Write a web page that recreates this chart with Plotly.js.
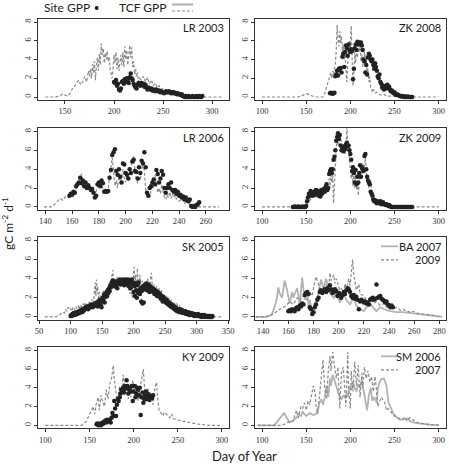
<!DOCTYPE html>
<html><head><meta charset="utf-8">
<script src="https://cdn.plot.ly/plotly-3.0.1.min.js"></script>
<style>html,body{margin:0;padding:0;background:#fff}#chart{width:449px;height:464px}</style>
</head><body><div id="chart"></div>
<script>
// ---------- DATA: [day, gC m-2 d-1] ----------
const lr03Tcf = [[130,0],[135,0],[140,0],[145,0.1],[147,0.3],[150,0.2],[153,0.1],[156,0.5],[158,1.0],[160,1.2],[162,1.5],[164,1.8],[166,1.3],[168,1.6],[170,2.2],[172,1.6],[174,2.8],[175,2.2],[176,3.0],[177,2.0],[178,3.5],[179,2.6],[180,3.8],[181,1.8],[182,3.2],[183,4.2],[184,2.8],[185,4.6],[186,3.4],[187,5.7],[188,4.5],[189,5.2],[190,3.6],[191,4.7],[192,4.0],[193,4.9],[194,3.8],[195,4.3],[196,3.0],[197,2.6],[198,2.0],[199,3.1],[200,4.5],[201,3.6],[202,4.8],[203,3.0],[204,4.2],[205,2.8],[206,3.6],[207,4.5],[208,3.4],[209,4.8],[210,3.2],[211,5.4],[212,4.0],[213,5.0],[214,3.4],[215,4.6],[216,5.5],[217,4.2],[218,5.3],[219,3.2],[220,3.8],[221,2.4],[222,3.0],[223,2.2],[224,2.6],[225,1.6],[226,2.0],[228,1.8],[230,2.2],[232,1.6],[234,2.1],[236,1.4],[238,1.8],[240,1.2],[242,1.5],[244,1.0],[246,1.2],[248,0.8],[250,0.9],[253,0.6],[256,0.5],[260,0.4],[264,0.3],[268,0.2],[272,0.15],[276,0.1],[280,0.05],[285,0],[290,0],[295,0],[300,0],[305,0],[310,0]];
const lr03Site = [[200,1.6],[201,1.5],[202,1.8],[203,1.2],[204,1.4],[205,0.8],[206,0.7],[207,0.9],[208,1.6],[209,1.7],[210,1.4],[211,1.9],[212,1.6],[213,2.0],[214,1.8],[215,1.5],[216,2.1],[217,2.5],[218,2.0],[219,1.8],[220,1.4],[221,1.2],[222,1.0],[223,0.9],[224,1.3],[225,1.5],[226,1.4],[227,1.2],[228,1.5],[229,1.3],[230,1.4],[231,1.1],[232,1.3],[233,1.0],[234,0.8],[235,1.0],[236,0.9],[237,0.8],[238,0.9],[239,0.7],[240,0.8],[241,0.7],[242,0.6],[243,0.8],[244,0.7],[245,0.6],[246,0.7],[247,0.5],[248,0.6],[249,0.5],[250,0.5],[251,0.4],[252,0.5],[253,0.6],[254,0.5],[255,0.5],[256,0.6],[257,0.5],[258,0.4],[259,0.5],[260,0.4],[261,0.5],[262,0.4],[263,0.4],[264,0.3],[265,0.4],[266,0.3],[267,0.3],[268,0.2],[269,0.3],[270,0.1],[271,0.1],[272,0.0],[273,0.1],[274,0.0],[275,0.0],[276,0.1],[277,0.0],[278,0.0],[279,0.0],[280,0.1],[281,0.0],[282,0.0],[283,0.0],[284,0.1],[285,0.0],[286,0.0],[287,0.1],[288,0.0],[289,0.0],[290,0.1]];

const zk08Tcf = [[100,0],[110,0],[120,0],[130,0],[140,0],[145,0.1],[148,0.3],[151,0.35],[154,0.2],[157,0.1],[160,0],[165,0],[169,0],[171,0.4],[173,1.0],[175,1.6],[177,2.2],[178,2.6],[179,2.0],[180,2.8],[181,2.4],[182,3.1],[183,3.6],[184,5.0],[185,7.7],[186,6.2],[187,5.4],[188,7.0],[189,5.8],[190,6.5],[191,4.8],[192,5.6],[193,4.0],[194,4.6],[195,2.8],[196,1.6],[197,3.5],[198,4.8],[199,6.0],[200,5.2],[201,7.6],[202,4.0],[203,1.2],[204,2.5],[205,4.8],[206,3.6],[207,5.0],[208,4.2],[209,5.5],[210,4.8],[211,5.4],[212,3.8],[213,4.5],[214,3.2],[215,4.0],[216,4.8],[217,3.6],[218,4.5],[219,2.4],[220,3.0],[221,1.6],[222,2.2],[223,1.0],[224,0.9],[225,0.5],[226,0.8],[228,0.4],[230,0.5],[232,0.3],[235,0.2],[238,0.3],[241,0.1],[245,0.1],[250,0.05],[255,0],[260,0],[270,0],[280,0],[290,0],[300,0]];
const zk08Site = [[177,0.4],[178,0.45],[179,0.4],[180,0.35],[181,0.4],[182,0.45],[183,2.2],[184,2.4],[185,2.8],[186,2.3],[187,3.0],[188,2.9],[189,3.1],[190,2.6],[191,4.3],[192,4.6],[193,3.2],[194,4.8],[195,5.5],[196,5.2],[197,4.4],[198,5.6],[199,5.0],[200,4.8],[201,5.1],[202,4.9],[203,1.9],[204,3.0],[205,5.2],[206,5.6],[207,5.0],[208,5.9],[209,5.6],[210,5.8],[211,5.7],[212,5.8],[213,5.5],[214,5.0],[215,4.0],[216,3.8],[217,2.6],[218,3.4],[219,2.4],[220,4.2],[221,4.6],[222,4.4],[223,4.0],[224,3.8],[225,4.0],[226,3.4],[227,3.0],[228,3.6],[229,3.2],[230,2.8],[231,2.2],[232,2.0],[233,2.4],[234,1.6],[235,1.4],[236,1.0],[237,1.2],[238,0.8],[239,1.1],[240,1.2],[241,0.9],[242,1.3],[243,1.0],[244,1.1],[245,0.8],[246,0.6],[247,0.7],[248,0.5],[249,0.4],[250,0.5],[251,0.3],[252,0.2],[253,0.3],[254,0.2],[255,0.15],[256,0.1],[257,0.1],[258,0.05],[259,0.1],[260,0.05],[261,0],[262,0.05],[263,0],[264,0],[265,0.05],[266,0],[267,0],[268,0],[269,0],[270,0]];

const lr06Tcf = [[139,0],[142,0],[145,0],[147,0.3],[149,0.6],[151,0.9],[153,0.7],[155,1.1],[157,1.0],[159,1.4],[161,1.2],[163,2.0],[165,2.4],[167,3.5],[169,2.3],[171,2.6],[173,1.8],[175,2.0],[177,1.2],[179,2.2],[181,2.6],[183,2.0],[185,1.4],[187,2.0],[188,3.2],[189,4.5],[190,5.2],[191,3.8],[192,2.2],[193,2.8],[194,2.0],[195,3.5],[196,2.4],[197,3.2],[198,4.0],[199,3.0],[200,2.6],[201,3.4],[202,2.8],[203,3.6],[204,4.2],[205,4.6],[206,5.4],[207,3.6],[208,3.0],[209,2.5],[210,3.2],[211,2.8],[212,4.0],[213,4.6],[214,3.8],[215,1.8],[216,1.2],[217,1.5],[218,1.0],[219,2.0],[220,2.6],[221,2.0],[222,3.4],[223,2.4],[224,1.5],[225,2.0],[226,1.4],[227,2.4],[228,1.8],[229,1.0],[230,0.8],[231,1.3],[232,1.0],[233,1.6],[234,0.9],[235,1.4],[236,1.0],[237,1.3],[238,0.8],[240,0.6],[242,0.9],[244,0.4],[246,0.5],[248,0.3],[250,0.2],[252,0.05],[255,0],[258,0],[262,0],[266,0],[270,0]];
const lr06Site = [[158,1.2],[159,1.4],[160,1.3],[161,1.6],[162,1.5],[163,2.2],[164,2.4],[165,2.6],[166,3.1],[167,2.5],[168,2.8],[169,2.2],[170,2.6],[171,2.0],[172,2.3],[173,2.0],[174,1.8],[175,1.9],[176,1.5],[177,1.0],[178,1.2],[179,2.4],[180,2.6],[181,2.2],[182,2.8],[183,2.5],[184,1.6],[185,1.7],[186,1.6],[187,1.7],[188,3.1],[189,3.9],[190,5.5],[191,5.8],[192,6.1],[193,3.8],[194,3.4],[195,4.0],[196,3.2],[197,2.6],[198,4.6],[199,4.5],[200,3.6],[201,3.4],[202,3.0],[203,4.0],[204,3.6],[205,4.8],[206,5.0],[207,3.8],[208,3.7],[209,3.0],[210,4.2],[211,3.6],[212,4.9],[213,4.6],[214,5.8],[215,4.2],[216,1.5],[217,1.2],[218,2.0],[219,2.2],[220,2.6],[221,2.9],[222,2.4],[223,3.9],[224,3.5],[225,2.6],[226,3.0],[227,3.8],[228,3.4],[229,2.0],[230,1.5],[231,2.0],[232,2.4],[233,2.0],[234,2.6],[235,1.8],[236,1.6],[237,1.8],[238,1.4],[239,1.6],[240,1.2],[241,1.3],[242,1.0],[243,1.1],[244,0.8],[245,1.0],[246,0.7],[247,0.6],[248,0.8],[249,0.1],[250,0.0],[251,0.1],[252,0.0],[253,0.2],[254,0.3],[255,0.5]];

const zk09Tcf = [[100,0],[110,0],[120,0],[130,0],[140,0],[148,0],[150,0.3],[153,0.6],[156,0.9],[158,1.3],[160,1.0],[162,1.6],[164,1.2],[166,1.8],[168,1.3],[170,2.0],[172,1.6],[174,2.4],[176,3.0],[177,2.2],[178,3.4],[179,2.6],[180,3.6],[181,0.4],[182,3.0],[183,5.0],[184,6.0],[185,7.2],[186,6.5],[187,7.8],[188,7.0],[189,7.4],[190,6.2],[191,5.8],[192,6.6],[193,6.0],[194,5.6],[195,6.4],[196,8.4],[197,7.0],[198,6.0],[199,5.2],[200,4.6],[201,3.0],[202,4.4],[203,2.2],[204,3.4],[205,2.0],[206,3.6],[207,1.8],[208,2.8],[209,1.2],[210,2.4],[211,3.4],[212,4.2],[213,3.2],[214,4.6],[215,3.6],[216,4.8],[217,5.2],[218,3.8],[219,3.0],[220,3.4],[221,2.0],[222,2.6],[223,2.8],[224,1.6],[225,1.0],[226,1.2],[227,0.7],[228,0.9],[230,0.5],[232,0.6],[234,0.3],[236,0.4],[238,0.2],[240,0.3],[242,0.1],[245,0.05],[248,0],[255,0],[265,0],[275,0],[285,0],[295,0],[300,0]];
const zk09Site = [[135,0],[136,0],[137,0.05],[138,0],[139,0],[140,0],[141,0.05],[142,0],[143,0],[144,0],[145,0],[146,0.05],[147,0],[148,0],[149,0],[150,0.1],[151,0.6],[152,1.0],[153,1.4],[154,1.2],[155,1.7],[156,1.5],[157,1.2],[158,1.4],[159,1.6],[160,1.3],[161,1.8],[162,1.5],[163,1.7],[164,1.2],[165,1.5],[166,1.1],[167,1.8],[168,1.4],[169,1.6],[170,1.9],[171,1.6],[172,2.1],[173,2.4],[174,1.8],[175,2.0],[176,3.5],[177,3.8],[178,4.0],[179,3.6],[180,4.0],[181,5.0],[182,5.3],[183,6.0],[184,7.0],[185,7.4],[186,7.8],[187,7.2],[188,7.6],[189,6.5],[190,6.0],[191,6.2],[192,5.9],[193,6.4],[194,6.1],[195,6.6],[196,6.8],[197,6.4],[198,6.5],[199,6.0],[200,5.6],[201,5.0],[202,3.8],[203,4.2],[204,3.6],[205,2.6],[206,3.9],[207,2.4],[208,3.2],[209,2.6],[210,3.6],[211,4.4],[212,3.2],[213,4.2],[214,4.0],[215,3.8],[216,5.4],[217,5.6],[218,4.0],[219,3.2],[220,2.8],[221,2.6],[222,2.4],[223,1.6],[224,1.4],[225,1.2],[226,0.8],[227,0.6],[228,0.7],[229,0.5],[230,0.4],[231,0.6],[232,0.5],[233,0.4],[234,0.6],[235,0.3],[236,0.4],[237,0.5],[238,0.3],[239,0.3],[240,0.2],[241,0.3],[242,0.2],[243,0.1],[244,0.2],[245,0.1],[246,0],[247,0],[248,0],[249,0],[250,0],[251,0],[252,0],[253,0],[254,0],[255,0],[256,0],[257,0],[258,0],[259,0],[260,0],[261,0],[262,0],[263,0],[264,0],[265,0],[266,0],[267,0],[268,0],[269,0],[270,0]];

const sk05Tcf = [[59,0],[65,0],[70,0],[75,0],[80,0.1],[85,0.3],[88,0.5],[90,0.4],[92,0.8],[94,0.6],[96,1.0],[98,0.8],[100,0.9],[102,0.6],[104,1.0],[106,0.7],[108,1.1],[110,0.9],[112,1.2],[114,0.8],[116,1.3],[118,1.0],[120,1.4],[122,1.1],[124,1.5],[126,1.2],[128,1.3],[130,1.6],[132,1.2],[134,1.8],[136,1.4],[138,2.8],[139,3.6],[140,2.2],[141,3.9],[142,2.6],[143,3.2],[144,2.0],[146,2.6],[148,1.8],[150,2.2],[152,2.8],[154,2.0],[156,2.6],[158,3.0],[160,2.6],[162,3.4],[164,3.0],[165,4.4],[166,3.6],[167,4.9],[168,3.4],[170,4.0],[172,3.3],[174,4.2],[176,3.6],[178,4.0],[180,3.5],[182,4.1],[184,3.4],[186,3.9],[188,3.2],[190,3.8],[192,3.0],[194,2.4],[196,3.2],[198,2.0],[200,4.6],[201,5.2],[202,3.0],[203,4.4],[204,2.2],[205,4.0],[206,5.1],[207,3.4],[208,2.6],[210,4.4],[212,3.0],[214,3.8],[216,2.6],[218,3.6],[220,3.2],[222,4.0],[224,3.2],[226,3.6],[228,4.6],[229,3.8],[230,3.0],[232,3.4],[234,2.8],[236,3.2],[238,2.6],[240,3.0],[242,2.4],[244,2.8],[246,2.2],[248,2.4],[250,2.0],[252,2.2],[254,1.8],[256,2.0],[258,1.6],[260,1.8],[262,1.4],[264,1.6],[266,1.2],[268,1.4],[270,1.1],[272,1.2],[274,0.9],[276,1.0],[278,0.8],[280,0.9],[283,0.7],[286,0.6],[289,0.5],[292,0.4],[295,0.4],[298,0.3],[301,0.3],[304,0.2],[307,0.2],[310,0.1],[313,0.1],[316,0.05],[320,0],[325,0],[330,0],[335,0],[340,0]];
const sk05Site = [[100,0.1],[101,0.2],[102,0.1],[103,0.3],[104,0.2],[105,0.4],[106,0.3],[107,0.2],[108,0.4],[109,0.5],[110,0.4],[111,0.3],[112,0.5],[113,0.6],[114,0.4],[115,0.5],[116,0.7],[117,0.6],[118,0.5],[119,0.8],[120,0.6],[121,0.7],[122,0.9],[123,0.8],[124,1.0],[125,0.9],[126,1.1],[127,1.0],[128,0.8],[129,1.1],[130,1.2],[131,1.0],[132,1.1],[133,1.3],[134,1.2],[135,1.0],[136,1.1],[137,1.3],[138,1.2],[139,1.4],[140,1.2],[141,1.5],[142,1.3],[143,1.1],[144,1.6],[145,1.4],[146,1.8],[147,1.5],[148,1.2],[149,1.0],[150,1.6],[151,2.0],[152,1.8],[153,2.3],[154,1.5],[155,2.4],[156,2.1],[157,2.6],[158,2.2],[159,2.8],[160,2.5],[161,3.0],[162,2.7],[163,3.3],[164,3.1],[165,3.6],[166,3.4],[167,3.8],[168,3.5],[169,3.2],[170,3.6],[171,3.3],[172,3.7],[173,3.4],[174,3.0],[175,3.5],[176,3.8],[177,3.6],[178,3.9],[179,3.4],[180,3.7],[181,3.5],[182,3.8],[183,3.9],[184,3.6],[185,3.3],[186,3.7],[187,3.9],[188,3.5],[189,3.8],[190,3.6],[191,3.9],[192,3.2],[193,3.8],[194,3.5],[195,3.0],[196,3.7],[197,3.9],[198,3.4],[199,3.6],[200,2.6],[201,3.2],[202,2.2],[203,3.5],[204,2.8],[205,2.0],[206,3.3],[207,2.5],[208,3.6],[209,2.8],[210,2.4],[211,3.0],[212,1.6],[213,2.7],[214,1.4],[215,3.2],[216,1.5],[217,2.9],[218,3.4],[219,3.1],[220,3.5],[221,2.8],[222,3.3],[223,3.0],[224,3.4],[225,2.6],[226,3.2],[227,2.9],[228,3.1],[229,2.7],[230,3.0],[231,2.6],[232,2.9],[233,2.4],[234,2.8],[235,2.5],[236,2.7],[237,2.2],[238,2.6],[239,2.3],[240,2.5],[241,2.1],[242,2.4],[243,1.9],[244,2.2],[245,2.0],[246,1.6],[247,2.1],[248,1.8],[249,1.9],[250,1.7],[251,1.5],[252,1.8],[253,1.4],[254,1.6],[255,1.3],[256,1.5],[257,1.2],[258,1.4],[259,1.1],[260,1.3],[261,1.0],[262,1.2],[263,0.9],[264,1.1],[265,0.8],[266,1.0],[267,0.7],[268,0.9],[269,0.6],[270,0.8],[271,0.6],[272,0.7],[273,0.5],[274,0.8],[275,0.6],[276,0.5],[277,0.7],[278,0.4],[279,0.6],[280,0.5],[281,0.4],[282,0.6],[283,0.3],[284,0.5],[285,0.4],[286,0.3],[287,0.5],[288,0.2],[289,0.4],[290,0.3],[291,0.2],[292,0.4],[293,0.3],[294,0.2],[295,0.3],[296,0.1],[297,0.3],[298,0.2],[299,0.1],[300,0.2],[301,0.1],[302,0.3],[303,0.2],[304,0.1],[305,0.2],[306,0.1],[307,0.0],[308,0.2],[309,0.1],[310,0.1],[311,0.0],[312,0.2],[313,0.1],[314,0.0],[315,0.1],[316,0.1],[317,0.0],[318,0.1],[319,0.0],[320,0.1],[321,0.0],[322,0.1],[323,0.0],[324,0.0],[325,0.1]];

const ba07Tcf = [[134,0],[138,0],[142,0],[145,0.1],[147,0.3],[149,1.0],[151,2.0],[152,3.1],[153,2.5],[155,2.0],[156,3.2],[157,3.8],[159,2.8],[160,2.0],[161,1.4],[163,2.6],[164,2.0],[165,2.4],[167,3.0],[168,2.2],[169,1.2],[171,4.1],[172,2.5],[173,1.8],[175,2.4],[176,1.2],[177,1.8],[179,0.4],[180,0.8],[181,1.5],[182,1.3],[184,2.6],[185,3.2],[186,3.9],[188,3.0],[189,3.4],[190,4.0],[192,3.0],[193,2.5],[196,2.0],[198,2.5],[201,1.5],[204,2.4],[206,1.8],[209,1.3],[212,2.0],[214,1.2],[217,0.8],[220,0.6],[222,1.0],[225,1.4],[228,0.9],[230,0.6],[233,1.0],[236,0.8],[238,0.7],[241,0.6],[246,0.5],[251,0.5],[257,0.4],[262,0.3],[267,0.2],[273,0.1],[278,0.05],[282,0]];
const ba09Tcf = [[134,0],[140,0],[145,0.1],[148,0.3],[151,0.6],[153,0.8],[156,1.0],[159,1.3],[161,1.6],[164,1.3],[167,2.0],[169,1.7],[172,2.2],[175,1.8],[177,2.6],[179,2.2],[180,3.0],[181,3.6],[182,4.2],[184,3.4],[185,2.6],[188,3.2],[189,2.8],[190,3.4],[192,2.6],[193,4.6],[194,3.8],[196,4.4],[197,3.5],[198,4.0],[200,3.2],[201,2.5],[202,3.0],[204,2.6],[205,3.5],[206,2.8],[208,4.0],[209,3.2],[210,5.0],[211,6.0],[212,4.4],[213,3.6],[214,2.8],[216,3.4],[217,2.4],[220,2.2],[222,1.8],[225,2.0],[228,1.4],[230,1.6],[233,1.2],[236,1.4],[238,1.0],[241,1.1],[244,0.9],[246,1.0],[249,0.7],[251,0.8],[254,0.6],[257,0.5],[259,0.6],[262,0.4],[267,0.3],[273,0.15],[278,0.1],[282,0.05]];
const baSite = [[160,0.6],[161,0.7],[162,0.6],[163,0.8],[164,0.7],[165,0.6],[166,0.9],[167,1.0],[168,0.8],[169,1.2],[170,1.1],[171,1.4],[172,1.3],[173,2.3],[174,2.5],[175,2.6],[176,2.4],[177,1.0],[178,0.8],[179,0.3],[180,0.5],[181,1.0],[182,1.3],[183,1.8],[184,2.0],[185,2.6],[186,2.8],[187,2.5],[188,2.7],[189,2.9],[190,2.6],[191,3.0],[192,2.8],[193,3.3],[194,2.9],[195,2.5],[196,2.6],[197,2.9],[198,2.7],[199,2.2],[200,2.5],[201,2.4],[202,2.0],[203,2.3],[204,2.6],[205,2.4],[206,2.8],[207,3.0],[208,2.9],[209,2.6],[210,2.2],[211,2.0],[212,2.3],[213,1.9],[214,2.1],[215,1.8],[216,0.8],[217,1.6],[218,1.8],[219,1.7],[220,1.5],[221,1.6],[222,1.4],[223,1.5],[224,1.3],[225,1.8],[226,1.9],[227,2.0],[228,1.8],[229,1.9],[230,3.4],[231,2.0],[232,2.1],[233,2.2],[234,1.9],[235,1.8],[236,1.7],[237,1.5],[238,1.6],[239,1.3],[240,1.2],[241,1.0],[242,1.2],[243,1.0]];

const ky09Tcf = [[100,0],[110,0],[120,0],[130,0],[141,0],[144,0.2],[147,0.5],[150,1.2],[152,1.5],[154,2.0],[156,1.2],[158,2.5],[160,3.0],[161,1.6],[163,3.2],[165,2.5],[167,2.0],[169,3.8],[171,2.8],[173,4.4],[175,5.0],[177,6.4],[178,5.0],[180,3.5],[182,2.4],[184,4.2],[186,2.8],[188,5.4],[190,3.6],[192,4.4],[194,2.8],[195,4.2],[197,3.0],[199,4.8],[201,3.4],[203,4.4],[205,2.6],[207,3.8],[209,5.0],[211,6.0],[212,4.4],[214,2.4],[216,4.0],[218,2.6],[220,3.4],[222,2.2],[224,4.0],[226,4.6],[227,3.0],[229,1.5],[231,1.3],[233,1.0],[235,1.4],[237,1.2],[241,0.8],[243,1.2],[245,0.7],[248,0.6],[252,0.5],[256,0.4],[263,0.3],[271,0.15],[279,0.05],[286,0],[295,0],[301,0]];
const ky09Site = [[158,0.1],[159,0.2],[160,0.0],[161,0.1],[162,0.2],[163,0.0],[164,0.1],[165,0.3],[166,0.2],[167,0.4],[168,0.5],[169,0.3],[170,0.6],[171,0.5],[172,0.4],[173,0.6],[174,0.3],[175,0.8],[176,1.3],[177,1.0],[178,2.6],[179,1.8],[180,1.0],[181,2.2],[182,2.8],[183,2.6],[184,3.0],[185,3.4],[186,3.8],[187,3.6],[188,4.0],[189,3.5],[190,4.2],[191,3.9],[192,4.8],[193,4.2],[194,3.4],[195,3.8],[196,4.0],[197,3.6],[198,4.2],[199,2.6],[200,3.6],[201,4.2],[202,3.0],[203,3.4],[204,4.0],[205,3.8],[206,3.2],[207,4.0],[208,1.1],[209,3.0],[210,3.5],[211,2.4],[212,2.8],[213,3.2],[214,3.6],[215,2.8],[216,3.0],[217,3.3],[218,2.7],[219,3.1],[220,3.0],[221,2.9],[222,3.2]];

const sm06Tcf = [[95,0],[105,0],[114,0],[118,0.5],[122,1.0],[125,1.3],[128,0.8],[131,0.3],[135,0.5],[139,0.8],[141,1.2],[144,1.0],[146,1.4],[150,1.0],[154,1.3],[158,1.1],[161,1.2],[163,1.5],[165,2.4],[167,2.8],[169,2.2],[171,3.0],[173,4.2],[175,3.0],[177,5.0],[178,4.2],[180,5.4],[182,4.8],[186,3.6],[188,3.0],[190,2.8],[192,3.2],[194,2.9],[196,3.4],[197,3.0],[199,4.2],[201,3.8],[203,4.6],[205,4.0],[207,3.6],[209,4.4],[211,4.0],[213,4.8],[214,4.2],[216,3.5],[218,2.0],[219,1.6],[221,3.2],[223,4.0],[225,2.6],[227,3.0],[230,2.4],[231,3.8],[233,4.6],[235,4.9],[238,5.0],[241,4.2],[243,2.5],[245,2.0],[249,1.2],[252,0.9],[256,0.6],[260,0.6],[264,0.7],[267,0.5],[271,0.3],[277,0.2],[285,0.1],[292,0.05],[300,0]];
const sm07Tcf = [[95,0],[105,0],[115,0],[122,0],[125,0.1],[129,0.3],[133,0.5],[135,0.4],[137,1.0],[139,1.6],[141,0.8],[142,1.2],[144,2.0],[146,1.8],[148,2.4],[150,1.6],[152,2.6],[154,2.2],[156,3.2],[158,4.2],[160,3.5],[161,2.2],[163,1.2],[165,3.4],[167,5.0],[169,7.0],[171,4.0],[173,2.8],[175,5.8],[177,7.4],[178,5.8],[180,7.8],[182,6.4],[184,5.0],[186,6.2],[188,1.8],[190,5.6],[192,6.2],[194,3.4],[195,2.0],[197,7.8],[198,4.0],[200,1.8],[201,5.8],[203,3.6],[205,6.8],[207,4.2],[209,6.4],[211,3.0],[213,5.6],[214,4.0],[216,6.2],[218,5.0],[220,5.8],[222,4.6],[224,5.2],[226,3.6],[228,5.2],[230,3.4],[231,2.0],[235,3.0],[239,2.4],[241,1.6],[243,1.8],[247,1.3],[250,1.0],[254,0.8],[258,0.6],[262,0.9],[264,0.5],[267,0.8],[271,0.6],[275,0.3],[281,0.2],[288,0.1],[296,0.05],[302,0]];

// tick labels
const yTicks = [0,2,4,6,8];
const xTicksLR03 = [150,200,250,300];
const xTicksZK = [100,150,200,250,300];
const xTicksLR06 = [140,160,180,200,220,240,260];
const xTicksSK = [50,100,150,200,250,300,350];
const xTicksBA = [140,160,180,200,220,240,260,280];
const xTicksKY = [100,150,200,250,300];
const xTicksSM = [100,150,200,250,300];

// ---------- LAYOUT ----------
const W=449, H=464;
const px = x => x/W, py = y => 1 - y/H;
const colPx=[[38.3,229],[255,445.7]];
const rowPx=[[19,100],[128.3,210],[237.3,320],[347.3,428.3]];
const DASH = {color:'#8a8a8a', width:1.2, dash:'3px,2px'};
const SOLID = {color:'#b3b3b3', width:1.8};

const panels = [
 {lab:'LR 2003', col:0,row:0, xr:[122.8,317.2], xt:xTicksLR03, lines:[[lr03Tcf,DASH]], site:lr03Site},
 {lab:'ZK 2008', col:1,row:0, xr:[92,308], xt:xTicksZK, lines:[[zk08Tcf,DASH]], site:zk08Site},
 {lab:'LR 2006', col:0,row:1, xr:[134.7,277.3], xt:xTicksLR06, lines:[[lr06Tcf,DASH]], site:lr06Site},
 {lab:'ZK 2009', col:1,row:1, xr:[92,308], xt:xTicksZK, lines:[[zk09Tcf,DASH]], site:zk09Site},
 {lab:'SK 2005', col:0,row:2, xr:[48.8,351.2], xt:xTicksSK, lines:[[sk05Tcf,DASH]], site:sk05Site},
 {lab:null, col:1,row:2, xr:[133.5,285], xt:xTicksBA, lines:[[ba07Tcf,SOLID],[ba09Tcf,DASH]], site:baSite, leg:['BA 2007','2009']},
 {lab:'KY 2009', col:0,row:3, xr:[92,308], xt:xTicksKY, lines:[[ky09Tcf,DASH]], site:ky09Site},
 {lab:null, col:1,row:3, xr:[92,308], xt:xTicksSM, lines:[[sm06Tcf,SOLID],[sm07Tcf,DASH]], site:null, leg:['SM 2006','2007']},
];

const tickFont = {family:'"Liberation Serif", "Times New Roman", "DejaVu Serif", serif', size:8.5, color:'#333'};
const sans = 'Lato, "Open Sans", sans-serif';
const traces=[], annotations=[], shapes=[];
const layout = {width:W, height:H, margin:{l:0,r:0,t:0,b:0}, paper_bgcolor:'#fff', plot_bgcolor:'#fff', showlegend:false};

panels.forEach((p,i)=>{
  const n = i+1, sfx = n>1? String(n):'';
  const xd=[px(colPx[p.col][0]), px(colPx[p.col][1])];
  const yd=[py(rowPx[p.row][1]), py(rowPx[p.row][0])];
  const common = {showline:true, mirror:true, linecolor:'#333', linewidth:1, showgrid:false, zeroline:false,
    ticks:'outside', ticklen:3, tickwidth:1, tickcolor:'#333', tickfont:tickFont, fixedrange:true};
  layout['xaxis'+sfx] = Object.assign({}, common, {domain:xd, anchor:'y'+sfx, range:p.xr, tickmode:'array', tickvals:p.xt, ticktext:p.xt.map(String)});
  layout['yaxis'+sfx] = Object.assign({}, common, {domain:yd, anchor:'x'+sfx, range:[-0.32,8.32], tickmode:'array', tickvals:yTicks, ticktext:yTicks.map(String), tickangle:-90});
  p.lines.forEach(([data,style])=>{
    traces.push({type:'scatter', mode:'lines', x:data.map(d=>d[0]), y:data.map(d=>d[1]), line:style, xaxis:'x'+sfx, yaxis:'y'+sfx, hoverinfo:'skip'});
  });
  if(p.site){
    traces.push({type:'scatter', mode:'markers', x:p.site.map(d=>d[0]), y:p.site.map(d=>d[1]), marker:{size:4.5, color:'#222'}, xaxis:'x'+sfx, yaxis:'y'+sfx, hoverinfo:'skip'});
  }
  const right = colPx[p.col][1]-3, top = rowPx[p.row][0];
  if(p.lab){
    annotations.push({text:p.lab, xref:'paper', yref:'paper', x:px(right), y:py(top+9), xanchor:'right', yanchor:'middle', showarrow:false, font:{family:sans, size:11, color:'#222'}});
  }
  if(p.leg){
    const y1=top+9, y2=top+22.5;
    shapes.push({type:'line', xref:'paper', yref:'paper', x0:px(381), x1:px(398), y0:py(y1), y1:py(y1), line:SOLID});
    shapes.push({type:'line', xref:'paper', yref:'paper', x0:px(381), x1:px(398), y0:py(y2), y1:py(y2), line:DASH});
    annotations.push({text:p.leg[0], xref:'paper', yref:'paper', x:px(right), y:py(y1), xanchor:'right', yanchor:'middle', showarrow:false, font:{family:sans, size:11, color:'#222'}});
    annotations.push({text:p.leg[1], xref:'paper', yref:'paper', x:px(right), y:py(y2), xanchor:'right', yanchor:'middle', showarrow:false, font:{family:sans, size:11, color:'#222'}});
  }
});

// top legend
annotations.push({text:'Site GPP', xref:'paper', yref:'paper', x:px(42), y:py(7.5), xanchor:'left', yanchor:'middle', showarrow:false, font:{family:sans, size:12, color:'#222'}});
annotations.push({text:'TCF GPP', xref:'paper', yref:'paper', x:px(117), y:py(7.5), xanchor:'left', yanchor:'middle', showarrow:false, font:{family:sans, size:12, color:'#222'}});
shapes.push({type:'circle', xref:'paper', yref:'paper', x0:px(94.7), x1:px(98.7), y0:py(10), y1:py(6), fillcolor:'#222', line:{width:0}});
shapes.push({type:'line', xref:'paper', yref:'paper', x0:px(172), x1:px(193), y0:py(4.5), y1:py(4.5), line:{color:'#b3b3b3', width:2.2}});
shapes.push({type:'line', xref:'paper', yref:'paper', x0:px(172), x1:px(193), y0:py(11), y1:py(11), line:DASH});
// axis titles
annotations.push({text:'gC m<sup>-2</sup> d<sup>-1</sup>', xref:'paper', yref:'paper', x:px(8), y:py(224), xanchor:'center', yanchor:'middle', textangle:-90, showarrow:false, font:{family:sans, size:12, color:'#222'}});
annotations.push({text:'Day of Year', xref:'paper', yref:'paper', x:px(245), y:py(456), xanchor:'center', yanchor:'middle', showarrow:false, font:{family:sans, size:13, color:'#222'}});

layout.annotations = annotations;
layout.shapes = shapes;
Plotly.newPlot('chart', traces, layout, {displayModeBar:false, staticPlot:true});
</script>
</body></html>
